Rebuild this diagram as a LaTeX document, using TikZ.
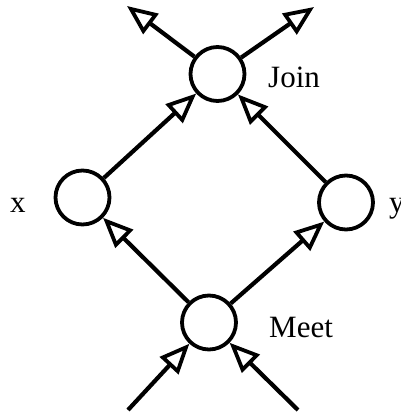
\documentclass[tikz,border=0pt]{standalone}
\usepackage{fontspec}
\setmainfont{Liberation Serif}
\usetikzlibrary{arrows.meta}
\begin{document}
\begin{tikzpicture}[x=1pt,y=-1pt,
  lattice/.style={circle,draw,line width=3.8pt,minimum size=54pt,inner sep=0pt},
  edge/.style={line width=4.2pt,
    -{Triangle[length=30pt,width=25pt,line width=3.8pt,fill=white]}},
  tag/.style={anchor=base west,inner sep=0pt,font=\fontsize{31}{37}\selectfont}]
  \useasboundingbox (0,0) rectangle (401,416);

  % lattice elements
  \node[lattice] (join) at (217.5,74) {};
  \node[lattice] (x)    at (82.5,197.5) {};
  \node[lattice] (y)    at (346,202.5) {};
  \node[lattice] (meet) at (209,322.5) {};

  % labels
  \node[tag] (joinlbl) at (268,87) {Join};
  \node[tag] (meetlbl) at (269,337) {Meet};
  \node[tag] (xlbl)    at (10,212) {x};
  \node[tag] (ylbl)    at (389,212) {y};

  % free ends of the outer arrows
  \coordinate (outL) at (127,6);
  \coordinate (outR) at (314,7);
  \coordinate (inL)  at (128,410);
  \coordinate (inR)  at (298,410);

  % order edges
  \draw[edge] (meet) -- (x);
  \draw[edge] (meet) -- (y);
  \draw[edge] (x) -- (join);
  \draw[edge] (y) -- (join);
  \draw[edge] (join) -- (outL);
  \draw[edge] (join) -- (outR);
  \draw[edge] (inL) -- (meet);
  \draw[edge] (inR) -- (meet);
\end{tikzpicture}
\end{document}
